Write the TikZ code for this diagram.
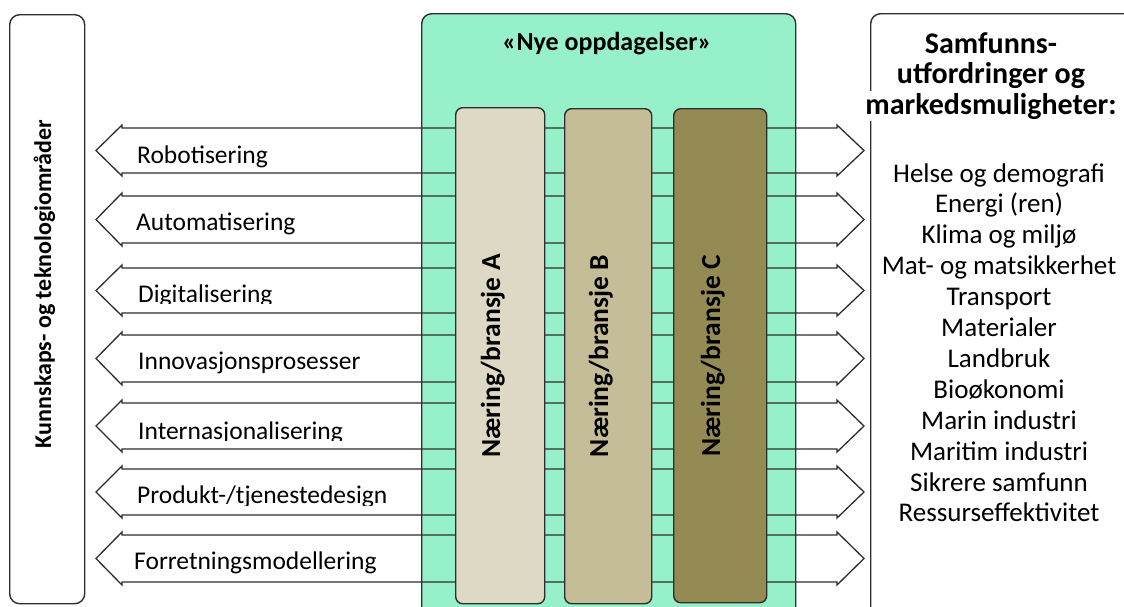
\documentclass[tikz,border=0pt]{standalone}
\usepackage{fontspec}
\setmainfont{Carlito}
\definecolor{frame}{HTML}{2E2E2E}
\definecolor{mint}{RGB}{150,240,202}
\definecolor{tanA}{HTML}{DDD9C4}
\definecolor{tanB}{HTML}{C4BD97}
\definecolor{tanC}{HTML}{948A54}
\newcommand{\dblarr}[3]{%
  \pgfmathsetmacro\amid{(#2+#3)/2}%
  \draw[arrowline] (96,\amid) coordinate (#1-l) -- (122,#2-3) -- (122,#2) -- (837,#2) -- (837,#2-3)
    -- (864,\amid) coordinate (#1-r) -- (837,#3+3) -- (837,#3) -- (122,#3) -- (122,#3+3) -- cycle;}
\begin{document}
\begin{tikzpicture}[x=1pt,y=-1pt,
  box/.style={draw=frame, line width=1.4pt, rounded corners=10pt, inner sep=0pt, anchor=north west},
  colbox/.style={draw=frame, line width=1.4pt, rounded corners=7pt, inner sep=0pt, anchor=north west},
  arrowline/.style={draw=frame, line width=1.3pt, line join=miter},
  lbl/.style={anchor=base west, inner sep=0pt, font=\fontsize{25.5}{30}\selectfont},
  listtxt/.style={anchor=base, inner sep=0pt, font=\fontsize{27}{31}\selectfont},
  headtxt/.style={anchor=base, inner sep=0pt, font=\fontsize{30}{31}\selectfont\bfseries},
  coltxt/.style={anchor=base, rotate=90, inner sep=0pt, font=\fontsize{27.5}{32}\selectfont\bfseries}]
\useasboundingbox (0,0) rectangle (1124,606);
\fill[white] (0,0) rectangle (1124,606);
% boxes
\node[box, minimum width=75pt, minimum height=589pt] (left) at (9,14) {};
\node[box, fill=mint, minimum width=374pt, minimum height=640pt] (green) at (421,13) {};
\node[box, minimum width=280pt, minimum height=640pt] (right) at (870,13) {};
% arrows
\dblarr{a1}{128}{173}
\dblarr{a2}{196}{243}
\dblarr{a3}{268}{313}
\dblarr{a4}{335}{382}
\dblarr{a5}{403}{449}
\dblarr{a6}{469}{515}
\dblarr{a7}{535}{582}
% columns
\node[colbox, fill=tanA, minimum width=89pt, minimum height=496pt] (colA) at (455,107) {};
\node[colbox, fill=tanB, minimum width=87pt, minimum height=495pt] (colB) at (564,108) {};
\node[colbox, fill=tanC, minimum width=93pt, minimum height=494pt] (colC) at (673,108) {};
\node[coltxt] (tA) at (500,356) {Næring/bransje A};
\node[coltxt] (tB) at (608,356) {Næring/bransje B};
\node[coltxt] (tC) at (720,356) {Næring/bransje C};
% title
\node[anchor=base, inner sep=0pt, font=\fontsize{26}{30}\selectfont\bfseries] (title) at (607,50) {«Nye oppdagelser»};
% left vertical text
\node[anchor=base, rotate=90, inner sep=0pt, font=\fontsize{24}{28}\selectfont\bfseries] (ltext) at (51,284) {Kunnskaps- og teknologiområder};
% arrow labels
\node[lbl] (l1) at (137,163) {Robotisering};
\node[lbl] (l2) at (136,230) {Automatisering};
\begin{scope}\clip (130,268) rectangle (830,303.5);
\node[lbl] (l3) at (138,302) {Digitalisering};
\end{scope}
\node[lbl] (l4) at (138,369) {Innovasjonsprosesser};
\begin{scope}\clip (130,403) rectangle (830,440.5);
\node[lbl] (l5) at (138,439) {Internasjonalisering};
\end{scope}
\begin{scope}\clip (130,469) rectangle (830,505);
\node[lbl] (l6) at (137,503) {Produkt-/tjenestedesign};
\end{scope}
\node[lbl] (l7) at (134,569) {Forretningsmodellering};
% right header
\node[headtxt] (h1) at (991,53) {Samfunns-};
\node[headtxt] (h2) at (991,83.5) {utfordringer og};
\node[headtxt, fill=white, inner ysep=2pt] (h3) at (991,114) {markedsmuligheter:};
\foreach \s [count=\i from 0] in {Helse og demografi, Energi (ren), Klima og miljø, Mat- og matsikkerhet, Transport, Materialer, Landbruk, Bioøkonomi, Marin industri, Maritim industri, Sikrere samfunn, Ressurseffektivitet}
  \node[listtxt] (item\i) at (999,182+30.9*\i) {\s};
\end{tikzpicture}
\end{document}
